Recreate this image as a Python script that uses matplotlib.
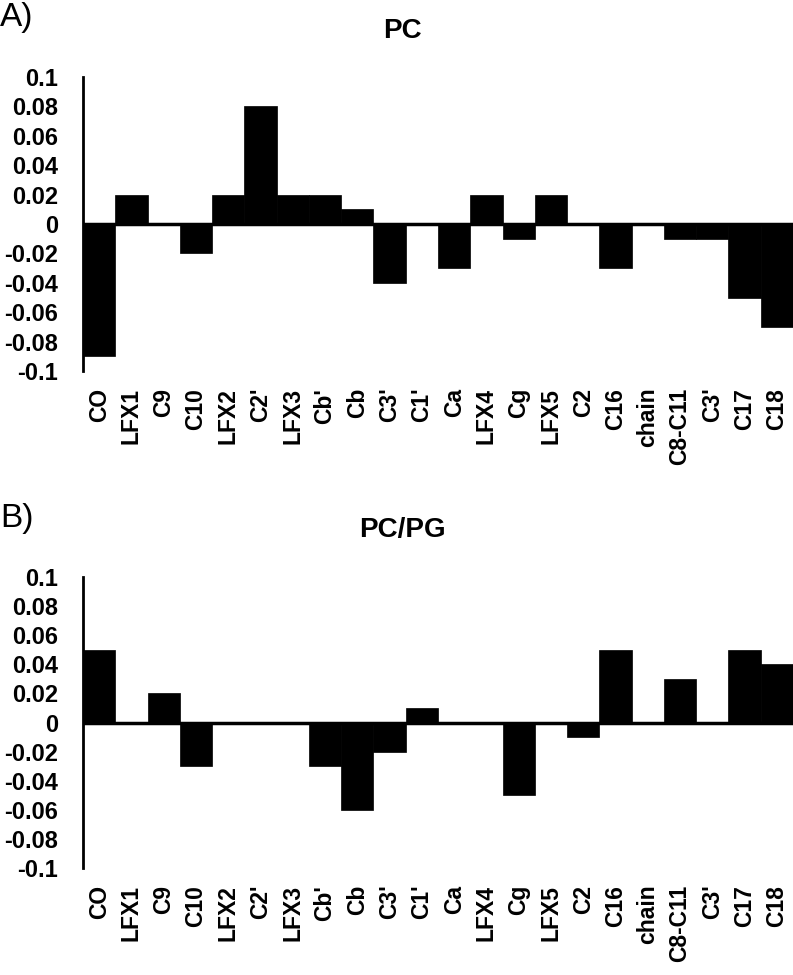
import matplotlib
matplotlib.use("Agg")
import matplotlib.pyplot as plt
import numpy as np

plt.rcParams['font.family'] = ['Liberation Sans', 'DejaVu Sans']

categories = ["CO", "LFX1", "C9", "C10", "LFX2", "C2'", "LFX3", "Cb'", "Cb", "C3'",
              "C1'", "Ca", "LFX4", "Cg", "LFX5", "C2", "C16", "chain", "C8-C11", "C3'",
              "C17", "C18"]
pc_values = [-0.09, 0.02, 0.0, -0.02, 0.02, 0.08, 0.02, 0.02, 0.01, -0.04,
             0.0, -0.03, 0.02, -0.01, 0.02, 0.0, -0.03, 0.0, -0.01, -0.01,
             -0.05, -0.07]
pcpg_values = [0.05, 0.0, 0.02, -0.03, 0.0, 0.0, 0.0, -0.03, -0.06, -0.02,
               0.01, 0.0, 0.0, -0.05, 0.0, -0.01, 0.05, 0.0, 0.03, 0.0,
               0.05, 0.04]
yticks = [0.1, 0.08, 0.06, 0.04, 0.02, 0, -0.02, -0.04, -0.06, -0.08, -0.1]
ytick_labels = ["0.1", "0.08", "0.06", "0.04", "0.02", "0", "-0.02", "-0.04", "-0.06", "-0.08", "-0.1"]

W, H = 793, 975
fig = plt.figure(figsize=(W / 100, H / 100), dpi=100)

def panel(rect, values, title, letter, title_y, letter_y):
    ax = fig.add_axes(rect)
    x = np.arange(len(categories))
    ax.bar(x, values, width=1.0, color='black', edgecolor='black', linewidth=0.5)
    ax.axhline(0, color='black', lw=2.5, zorder=3)
    ax.set_xlim(-0.5, len(categories) - 0.5)
    ax.set_ylim(-0.1, 0.1)
    ax.set_yticks(yticks)
    ax.set_yticklabels(ytick_labels, fontsize=17, fontweight='bold')
    ax.set_xticks(x)
    ax.set_xticklabels(categories, rotation=90, fontsize=16.5, fontweight='bold')
    ax.tick_params(axis='both', length=0)
    ax.tick_params(axis='y', pad=18)
    ax.tick_params(axis='x', pad=12)
    for s in ['top', 'right', 'bottom']:
        ax.spines[s].set_visible(False)
    ax.spines['left'].set_linewidth(2)
    fig.text(402 / W, 1 - title_y / H, title, fontsize=20, fontweight='bold',
             ha='center', va='baseline')
    fig.text(0 / W, 1 - letter_y / H, letter, fontsize=24, ha='left', va='baseline')
    return ax

panel([83 / W, 1 - 371 / H, 710 / W, 294 / H], pc_values, "PC", "A)", 38, 26)
panel([83 / W, 1 - 868 / H, 710 / W, 291 / H], pcpg_values, "PC/PG", "B)", 537, 527)

fig.savefig("out.png", dpi=100)
